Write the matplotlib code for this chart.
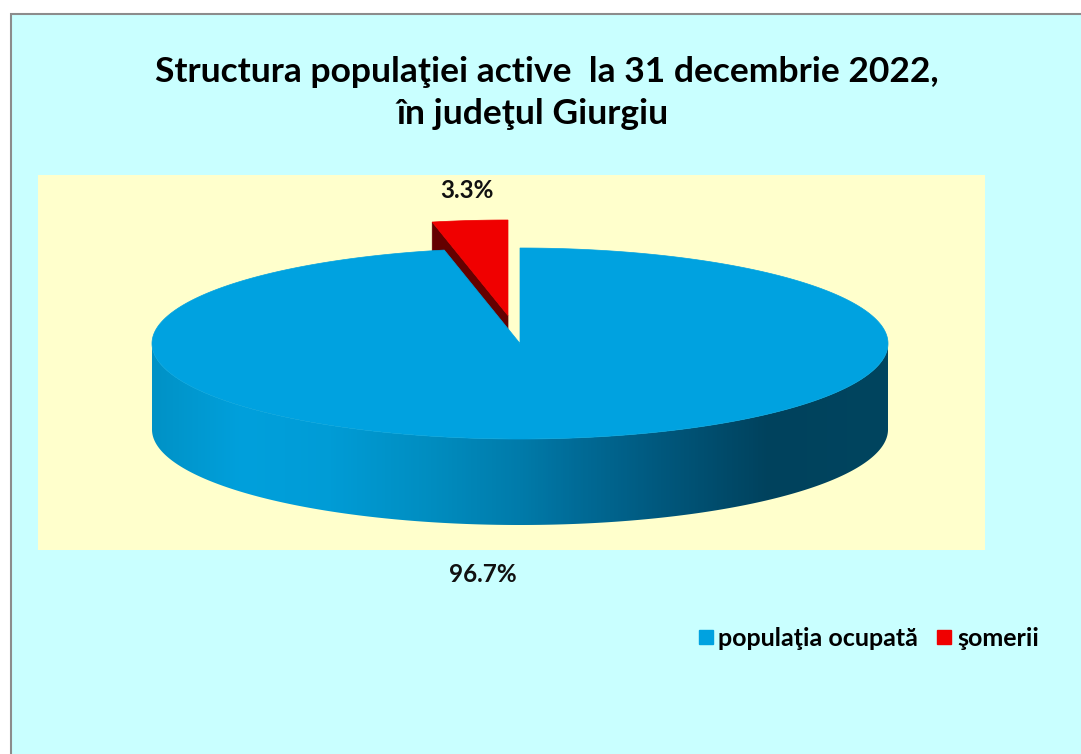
import numpy as np
import matplotlib.pyplot as plt
from matplotlib.patches import Polygon, Rectangle
from matplotlib.lines import Line2D
from matplotlib.colors import LinearSegmentedColormap

# data
categories = ['populaţia ocupată', 'şomerii']
shares = [96.7, 3.3]
pct_labels = ['96.7%', '3.3%']
colors = ['#00A2E0', '#F00000']
title_lines = ['Structura populaţiei active  la 31 decembrie 2022,', 'în judeţul Giurgiu']

FONT = ['Lato', 'DejaVu Sans']

W, H = 1081, 754
fig = plt.figure(figsize=(W / 100, H / 100), dpi=100)
ax = fig.add_axes([0, 0, 1, 1])
ax.axis('off')

# chart area + plot area
ax.add_patch(Rectangle((11, 14), W, H, facecolor='#C9FFFF', edgecolor='#8C8C8C', lw=1.5, zorder=0))
ax.add_patch(Rectangle((38, 175), 947, 375, facecolor='#FFFFCC', edgecolor='none', zorder=1))

# 3d pie geometry (screen pixels)
cx, cy, a, b, depth = 520, 343.5, 368, 95.5, 86
explode = [(0, 0), (-12, -28)]

# side shading of the blue wall, by x position
side_cmap = LinearSegmentedColormap.from_list('side', [
    (0.00, '#0092C6'), (0.12, '#00A0DC'), (0.24, '#009CD6'),
    (0.38, '#008DC0'), (0.50, '#007BAA'), (0.575, '#006C98'),
    (0.68, '#005A80'), (0.77, '#004C6C'), (0.84, '#00425D'),
    (1.00, '#00455F')])


def pt(th, off, down=0.0):
    r = np.radians(th)
    return cx + off[0] + a * np.cos(r), cy + off[1] - b * np.sin(r) + down


# wedge angles: start at 12 o'clock, clockwise
cum = np.concatenate([[0], np.cumsum(shares)]) / sum(shares)
th_start = 90 - cum[:-1] * 360
th_end = 90 - cum[1:] * 360

# red wedge (exploded, behind)
i = 1
off = explode[i]
apex = (cx + off[0], cy + off[1])
rim = pt(th_start[i], off)
dark = Polygon([apex, rim, (rim[0], rim[1] + depth), (apex[0], apex[1] + depth)],
               closed=True, facecolor='#640000', edgecolor='#640000', lw=0.5, zorder=2)
ax.add_patch(dark)
ths = np.linspace(th_start[i], th_end[i], 30)
xs, ys = pt(ths, off)
ax.add_patch(Polygon([apex] + list(zip(xs, ys)), closed=True,
                     facecolor=colors[i], edgecolor=colors[i], lw=0.5, zorder=3))

# blue wedge: front wall (gradient clipped to the wall) then top
i = 0
off = explode[i]
ths = np.linspace(th_start[i], th_end[i], 1400)
front = ths[np.sin(np.radians(ths)) <= 0]
fx, fy = pt(front, off)
wall_pts = list(zip(fx, fy)) + list(zip(fx[::-1], fy[::-1] + depth))
wall = Polygon(wall_pts, closed=True, facecolor='none', edgecolor='none', transform=ax.transData)
ax.add_patch(wall)
grad = np.linspace(0, 1, 600)[None, :]
img = ax.imshow(grad, cmap=side_cmap, aspect='auto', interpolation='bilinear',
                extent=(fx.min(), fx.max(), fy.max() + depth + 1, fy.min() - 1), zorder=4)
img.set_clip_path(wall)

xs, ys = pt(ths, off)
apex = (cx + off[0], cy + off[1])
ax.add_patch(Polygon([apex] + list(zip(xs, ys)), closed=True,
                     facecolor=colors[i], edgecolor=colors[i], lw=0.5, zorder=5))

# data labels
ax.text(483, 574, pct_labels[0], ha='center', va='center', fontsize=17.5,
        fontweight='bold', family=FONT, color='#111111', zorder=6)
ax.text(467, 190, pct_labels[1], ha='center', va='center', fontsize=17.5,
        fontweight='bold', family=FONT, color='#111111', zorder=6)

# title
ax.text(547, 72, title_lines[0], ha='center', va='center', fontsize=25.5, fontweight='bold',
        family=FONT, color='black', zorder=6)
ax.text(533, 114, title_lines[1], ha='center', va='center', fontsize=25.5, fontweight='bold',
        family=FONT, color='black', zorder=6)

# legend
handles = [Line2D([], [], marker='s', ls='', color=c, markersize=10) for c in colors]
ax.legend(handles, categories, loc='center left', bbox_to_anchor=(697 / W, 1 - 638 / H),
          frameon=False, ncol=2, handlelength=0.7, handletextpad=0.15, columnspacing=0.7,
          borderpad=0, borderaxespad=0,
          prop={'family': FONT, 'weight': 'bold', 'size': 18})

ax.set_xlim(0, W)
ax.set_ylim(H, 0)

fig.savefig('out.png', dpi=100)
